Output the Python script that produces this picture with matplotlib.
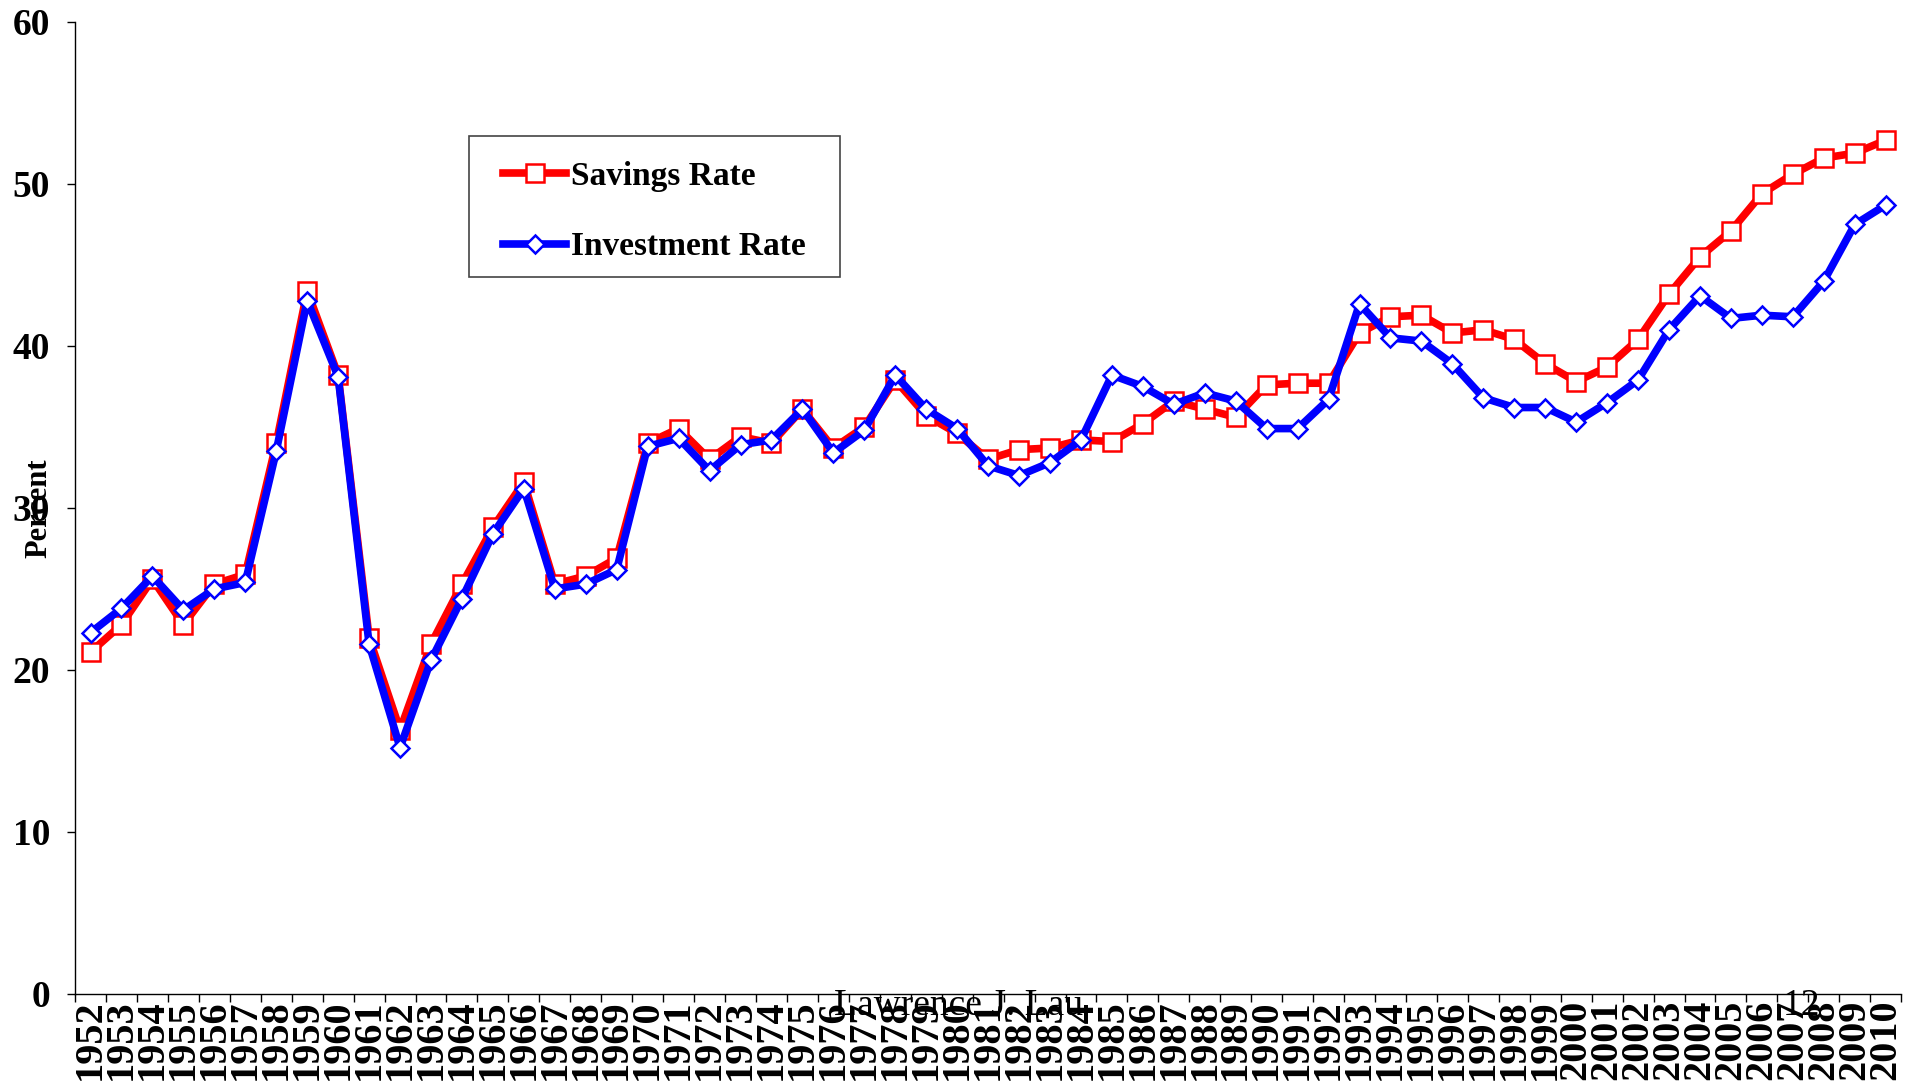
import numpy as np
import matplotlib
matplotlib.use("Agg")
import matplotlib.pyplot as plt
from matplotlib.patches import Rectangle
from matplotlib.ticker import FixedLocator, NullFormatter

# years on the category axis
years = [str(y) for y in range(1952, 2011)]

# savings rate, percent (red squares)
savings = [21.1, 22.8, 25.6, 22.8, 25.3, 25.9, 34.0, 43.4, 38.2, 22.0,
           16.3, 21.6, 25.3, 28.8, 31.6, 25.3, 25.8, 26.9, 34.0, 34.9,
           33.0, 34.4, 34.0, 36.1, 33.7, 35.0, 37.9, 35.7, 34.6, 33.0,
           33.6, 33.7, 34.2, 34.1, 35.2, 36.6, 36.1, 35.6, 37.6, 37.7,
           37.7, 40.8, 41.8, 41.9, 40.8, 41.0, 40.4, 38.9, 37.8, 38.7,
           40.4, 43.2, 45.5, 47.1, 49.4, 50.6, 51.6, 51.9, 52.7]

# investment rate, percent (blue diamonds)
investment = [22.3, 23.8, 25.8, 23.7, 25.0, 25.4, 33.5, 42.8, 38.1, 21.6,
              15.2, 20.6, 24.4, 28.4, 31.2, 25.0, 25.3, 26.2, 33.8, 34.3,
              32.3, 33.9, 34.2, 36.1, 33.4, 34.8, 38.2, 36.1, 34.9, 32.6,
              32.0, 32.8, 34.2, 38.2, 37.5, 36.4, 37.1, 36.6, 34.9, 34.9,
              36.7, 42.6, 40.5, 40.3, 38.9, 36.8, 36.2, 36.2, 35.3, 36.5,
              37.9, 41.0, 43.1, 41.7, 41.9, 41.8, 44.0, 47.5, 48.7]

serif = "Liberation Serif"
W, H = 1905, 1087

fig = plt.figure(figsize=(W / 100, H / 100), dpi=100)
ax = fig.add_axes([0.0394, 0.0856, 0.9586, 0.8942])

x = np.arange(len(years))
ax.plot(x, savings, color="#ff0000", linewidth=5.5, marker="s", markersize=13.5,
        markerfacecolor="white", markeredgecolor="#ff0000", markeredgewidth=1.8,
        label="Savings Rate", zorder=2)
ax.plot(x, investment, color="#0000ff", linewidth=5.5, marker="D", markersize=9,
        markerfacecolor="white", markeredgecolor="#0000ff", markeredgewidth=1.8,
        label="Investment Rate", zorder=3)

ax.set_xlim(-0.5, len(years) - 0.5)
ax.set_ylim(0, 60)

for s in ["top", "right"]:
    ax.spines[s].set_visible(False)
for s in ["left", "bottom"]:
    ax.spines[s].set_linewidth(1.0)
    ax.spines[s].set_color("black")

ax.set_yticks([0, 10, 20, 30, 40, 50, 60])
ax.tick_params(axis="y", direction="out", length=6, width=1.0, pad=12)
for lab in ax.get_yticklabels():
    lab.set_fontfamily(serif)
    lab.set_fontweight("bold")
    lab.set_fontsize(27)

ax.set_xticks(x)
ax.set_xticklabels(years, rotation=90, fontfamily=serif, fontweight="bold", fontsize=29)
ax.tick_params(axis="x", which="major", length=0, pad=4)
ax.xaxis.set_minor_locator(FixedLocator(np.arange(len(years) + 1) - 0.5))
ax.xaxis.set_minor_formatter(NullFormatter())
ax.tick_params(axis="x", which="minor", direction="out", length=6, width=1.0)

fig.text(39 / W, 1 - 508 / H, "Percent", rotation=90, ha="center", va="center",
         fontfamily=serif, fontweight="bold", fontsize=22)

# legend: box drawn separately so the padding matches the slide
box = Rectangle((469 / W, 1 - 277 / H), (840 - 469) / W, (277 - 136) / H,
                transform=fig.transFigure, facecolor="white", edgecolor="#444444",
                linewidth=1.2, zorder=4, clip_on=False)
ax.add_patch(box)
leg = ax.legend(loc="upper left", bbox_to_anchor=(503 / W, 1 - 161 / H),
                bbox_transform=fig.transFigure, borderaxespad=0, borderpad=0,
                frameon=False,
                prop={"family": serif, "weight": "bold", "size": 24},
                handlelength=1.9, handletextpad=0.15, labelspacing=1.18)
leg.set_zorder(5)

fig.text(959 / W, 1 - 1006 / H, "Lawrence J. Lau", ha="center", va="center",
         fontfamily=serif, fontsize=27)
fig.text(1802 / W, 1 - 1006 / H, "12", ha="center", va="center",
         fontfamily=serif, fontsize=27)

fig.savefig("out.png", dpi=100)
